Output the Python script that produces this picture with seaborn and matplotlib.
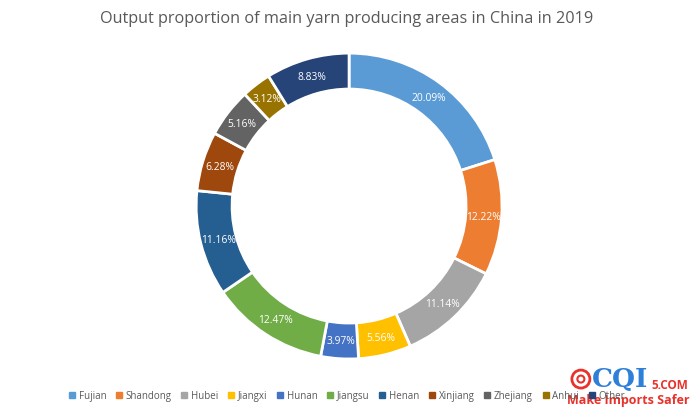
import matplotlib
matplotlib.use("Agg")
import matplotlib.pyplot as plt
from matplotlib.patches import Ellipse
import numpy as np
import seaborn as sns

categories = ["Fujian", "Shandong", "Hubei", "Jiangxi", "Hunan", "Jiangsu",
              "Henan", "Xinjiang", "Zhejiang", "Anhui", "Other"]
values = [20.09, 12.22, 11.14, 5.56, 3.97, 12.47, 11.16, 6.28, 5.16, 3.12, 8.83]
colors = ["#5B9BD5", "#ED7D31", "#A5A5A5", "#FFC000", "#4472C4", "#70AD47",
          "#255E91", "#9E480E", "#636363", "#997300", "#264478"]
title = "Output proportion of main yarn producing areas in China in 2019"

sns.set_theme(style="white")
plt.rcParams["font.family"] = ["Open Sans", "DejaVu Sans"]

fig = plt.figure(figsize=(6.94, 4.10), dpi=100)
ax = fig.add_axes([0.503 - 0.2205, 0.495 - 0.373, 0.441, 0.746])

wedges, _ = ax.pie(values, colors=colors, startangle=90, counterclock=False,
                   radius=1.0,
                   wedgeprops=dict(width=0.235, edgecolor="white", linewidth=2))
total = sum(values)
cum = 0
for v in values:
    mid = 90 - (cum + v / 2) / total * 360
    r = 1 - 0.235 / 2
    ax.text(r * np.cos(np.radians(mid)), r * np.sin(np.radians(mid)),
            f"{v:.2f}%", ha="center", va="center", color="white", fontsize=7.4)
    cum += v
ax.set_aspect("equal")
ax.set_xlim(-1, 1)
ax.set_ylim(-1, 1)
ax.axis("off")

fig.text(0.5, 0.953, title, ha="center", va="center", fontsize=11.7, color="#595959")

handles = [plt.Rectangle((0, 0), 1, 1, color=c) for c in colors]
fig.legend(handles, categories, loc="center", bbox_to_anchor=(0.5, 0.032),
           ncol=11, frameon=False, fontsize=7, handlelength=0.6, handleheight=0.6,
           columnspacing=1.0, handletextpad=0.4, labelcolor="#595959")

# watermark
fig.text(0.893, 0.075, "CQI", ha="center", va="center", fontsize=19, color="#2E7FD9",
         fontweight="bold", family="DejaVu Serif")
fig.text(0.965, 0.06, "5.COM", ha="center", va="center", fontsize=8.5, color="#E8322B",
         fontweight="bold")
fig.text(0.905, 0.022, "Make Imports Safer", ha="center", va="center", fontsize=9,
         color="#E8322B", fontweight="bold")
fig.add_artist(Ellipse((0.837, 0.073), 18 / 694, 18 / 410, transform=fig.transFigure,
                       fill=False, edgecolor="#E8322B", linewidth=2))
fig.add_artist(Ellipse((0.837, 0.073), 7 / 694, 7 / 410, transform=fig.transFigure,
                       fill=False, edgecolor="#E8322B", linewidth=1.5))

fig.savefig("out.png", dpi=100, facecolor="white")
